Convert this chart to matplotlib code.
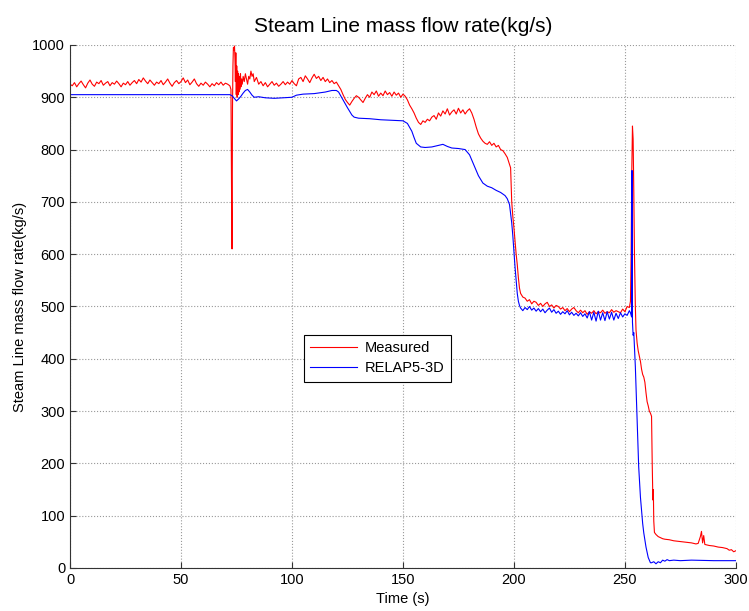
import matplotlib
matplotlib.use("Agg")
import matplotlib.pyplot as plt

plt.rcParams['font.family'] = ['Liberation Sans', 'DejaVu Sans']

# measured steam line flow (kg/s) against time (s)
meas_t = list(range(0, 73)) + [
    72.5, 72.8, 73.0, 73.2, 73.4, 73.6, 73.9, 74.1, 74.3, 74.5, 74.7, 74.9, 75.1, 75.3, 75.5,
    75.7, 75.9, 76.1, 76.3, 76.5, 76.8, 77.0, 77.3, 77.6, 78.0, 78.5, 79.0, 79.5, 80.0, 80.5,
    81.0, 81.5, 82.0, 82.5, 83.0, 84.0] + list(range(85, 198)) + [
    198.5, 199.0, 199.5, 200.0, 200.5, 201.0, 201.5, 202.0, 202.5, 203.0] + list(range(204, 253)) + [
    252.5, 252.8, 253.1, 253.4, 253.7, 254.0, 254.3, 254.7, 255.0, 255.5, 256.0, 256.5, 257.0,
    257.5, 258.0, 258.5, 259.0, 259.5, 260.0, 260.5, 261.0, 261.5, 262.0, 262.3, 262.6, 262.8,
    263.0, 263.3, 264, 265, 266, 267, 268, 270, 272, 274, 276, 278, 280, 282, 283, 284, 284.5,
    285, 285.5, 286, 288, 290, 292, 294, 296, 297, 298, 299, 300]
meas_v = [
    925, 922, 928, 920, 926, 931, 924, 918, 927, 933, 925, 921, 929, 926, 932, 923, 927, 930,
    922, 928, 925, 931, 926, 920, 927, 924, 930, 923, 928, 932, 926, 934, 929, 937, 931, 926,
    933, 928, 923, 929, 926, 932, 924, 929, 935, 927, 921, 928, 932, 926, 930, 937, 928, 933,
    924, 929, 935, 926, 921, 927, 923, 929, 925, 920, 926, 922, 928, 924, 929, 923, 927, 925,
    922,
    915, 700, 610, 880, 960, 995, 990, 998, 975, 930, 985, 905, 960, 900, 950,
    905, 945, 910, 940, 915, 945, 920, 935, 925, 940, 930, 945, 935, 925, 940,
    935, 950, 940, 945, 930, 938,
    # 85 .. 197
    925, 930, 922, 928, 920, 925, 930, 923, 927, 921, 925, 930, 924, 929, 925, 932, 926, 922,
    935, 938, 930, 941, 935, 928, 937, 944, 936, 940, 932, 938, 930, 935, 928, 932, 926, 929,
    922, 915, 905, 896, 890, 885, 892, 898, 903, 900, 895, 890, 898, 905, 900, 910, 905, 912,
    902, 908, 903, 912, 905, 909, 902, 910, 904, 908, 900, 906, 902, 895, 885, 878, 870, 860,
    852, 848, 855, 852, 858, 855, 862, 865, 858, 870, 864, 874, 868, 878, 866, 872, 876, 868,
    879, 870, 876, 868, 874, 878, 870, 858, 843, 830, 822, 816, 812, 810, 815, 808, 812, 805,
    808, 800, 798, 792, 785,
    765, 700, 672, 650, 625, 600, 580, 555, 535, 525,
    # 204 .. 252
    518, 516, 510, 513, 505, 510, 508, 502, 506, 500, 505, 508, 500, 503, 497, 502, 500, 495,
    498, 492, 496, 490, 495, 498, 492, 488, 493, 488, 492, 485, 490, 487, 492, 486, 490, 488,
    493, 487, 490, 488, 494, 489, 492, 490, 488, 495, 490, 500, 498,
    510, 600, 760, 845, 820, 720, 600, 500, 455, 430, 415, 405, 395,
    380, 370, 365, 355, 335, 318, 310, 300, 296, 290, 200, 130, 150,
    90, 68, 64, 60, 58, 56, 55, 54, 52, 51, 50, 49, 48, 46, 47, 60, 70,
    48, 62, 45, 43, 42, 40, 39, 37, 34, 35, 31, 33]

# RELAP5-3D prediction
relap_t = [0, 72, 73, 74, 75, 76, 77, 78, 79, 80, 81, 82, 83, 85, 88, 92, 96, 100, 102, 105,
           110, 115, 118, 120, 121, 123, 125, 127, 128, 130, 135, 140, 145, 150, 152, 154, 155,
           156, 158, 160, 163, 166, 168, 170, 172, 175, 178, 180, 182, 184, 186, 188, 190, 192,
           194, 196, 197, 198, 199, 199.5, 200, 200.5, 201, 201.5, 202, 202.5] + list(range(203, 253)) + [
           252.5, 253.0, 253.2, 253.4, 253.7, 254.0, 254.7, 255.5, 256.2, 257.0, 258.0, 258.5,
           259.5, 260.5, 261.5, 262, 263, 264, 265, 266, 267, 268, 269, 270, 272, 275, 280,
           290, 300]
relap_v = [905, 905, 903, 898, 893, 897, 902, 908, 913, 915, 910, 904, 900, 901, 899, 898, 899,
           900, 904, 906, 907, 910, 913, 913, 910, 895, 880, 866, 862, 860, 859, 857, 856, 855,
           850, 835, 823, 812, 805, 804, 805, 808, 810, 806, 803, 802, 800, 790, 770, 750, 736,
           730, 727, 722, 718, 712, 706, 695, 660, 635, 605, 575, 550, 525, 510, 502,
           # 203 .. 252
           497, 492, 498, 494, 500, 493, 497, 491, 496, 490, 495, 488, 493, 497, 489, 494, 487,
           491, 485, 490, 486, 492, 484, 489, 483, 487, 482, 488, 481, 486, 478, 490, 474, 489,
           472, 491, 474, 488, 473, 490, 476, 489, 474, 487, 477, 488, 480, 486, 483, 492,
           488, 480, 760, 470, 445, 450, 385, 280, 194, 135, 85, 67,
           40, 20, 10, 10, 12, 8, 12, 10, 15, 13, 16, 14, 15, 14, 15,
           14, 14]

fig = plt.figure(figsize=(7.49, 6.11), dpi=100)
ax = fig.add_axes([0.0935, 0.0704, 0.889, 0.856])

ax.plot(meas_t, meas_v, color='#ff0000', lw=0.8, label='Measured')
ax.plot(relap_t, relap_v, color='#0000ff', lw=0.8, label='RELAP5-3D')

ax.set_xlim(0, 300)
ax.set_ylim(0, 1000)
ax.set_xticks(range(0, 301, 50))
ax.set_yticks(range(0, 1001, 100))
ax.grid(True, ls=':', color='#999999', lw=0.8)
for s in ('top', 'right'):
    ax.spines[s].set_visible(False)
for s in ('left', 'bottom'):
    ax.spines[s].set_color('#333333')
ax.tick_params(direction='in', length=4, labelsize=10.5, colors='#333333', labelcolor='black')

ax.set_title('Steam Line mass flow rate(kg/s)', fontsize=15, pad=9)
ax.set_xlabel('Time (s)', fontsize=10.5, labelpad=4)
ax.set_ylabel('Steam Line mass flow rate(kg/s)', fontsize=10.5)

leg = ax.legend(loc='lower left', bbox_to_anchor=(0.351, 0.356), borderaxespad=0,
                fancybox=False, edgecolor='black', framealpha=1, fontsize=10.5,
                handlelength=3.2, borderpad=0.45, labelspacing=0.4, handletextpad=0.5)
leg.get_frame().set_linewidth(0.8)

fig.savefig('out.png', dpi=100)
